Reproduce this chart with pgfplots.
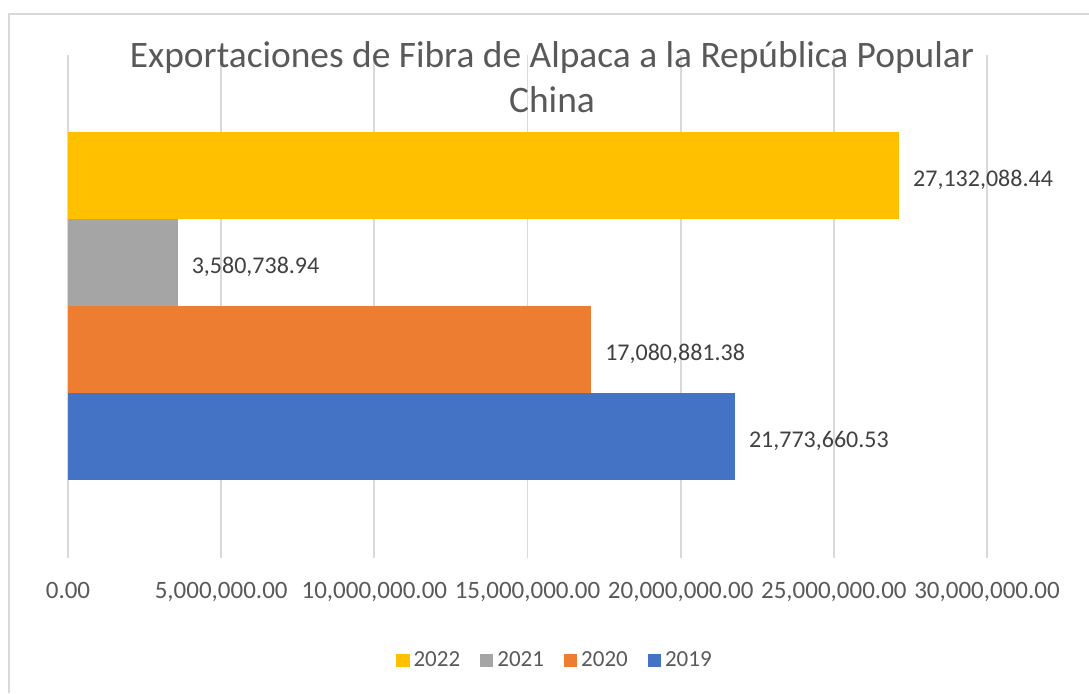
\documentclass[border=0pt]{standalone}
\usepackage{fontspec}
\setmainfont{Carlito}
\usepackage{pgfplots}
\usepackage{pgfplotstable}
\pgfplotsset{compat=1.18}

\definecolor{c2022}{HTML}{FFC000}
\definecolor{c2021}{HTML}{A5A5A5}
\definecolor{c2020}{HTML}{ED7D31}
\definecolor{c2019}{HTML}{4472C4}
\definecolor{gridc}{HTML}{D9D9D9}
\definecolor{txtc}{HTML}{595959}
\definecolor{lblc}{HTML}{404040}

\pgfplotstableread{
x y label
27132088.44 3 27,132,088.44
}\tabA
\pgfplotstableread{
x y label
3580738.94 2 3,580,738.94
}\tabB
\pgfplotstableread{
x y label
17080881.38 1 17,080,881.38
}\tabC
\pgfplotstableread{
x y label
21773660.53 0 21,773,660.53
}\tabD

\pgfplotsset{sq/.style={legend image code/.code={\fill[##1] (0pt,-3.3pt) rectangle (6.6pt,3.3pt);}}}

\begin{document}
\begin{tikzpicture}
\useasboundingbox (-34pt,-67.5pt) rectangle (510.5pt,279pt);
\begin{axis}[
    at={(0pt,0pt)}, anchor=south west,
    scale only axis,
    width=459.5pt, height=251.5pt,
    xbar, bar width=1, bar shift=0pt,
    xmin=0, xmax=30000000,
    ymin=-1.40, ymax=4.38,
    axis line style={draw=none},
    tick style={draw=none},
    ytick=\empty,
    scaled x ticks=false,
    xtick={0,5000000,10000000,15000000,20000000,25000000,30000000},
    xticklabels={{0.00},{5,000,000.00},{10,000,000.00},{15,000,000.00},{20,000,000.00},{25,000,000.00},{30,000,000.00}},
    xticklabel style={anchor=base, yshift=-20pt, font=\fontsize{12.5}{14}\selectfont, text=txtc},
    /pgf/number format/assume math mode=true,
    xmajorgrids,
    grid style={color=gridc, line width=0.9pt},
    point meta=explicit symbolic,
    nodes near coords,
    every node near coord/.append style={anchor=west, xshift=3.5pt, yshift=-2.2pt, font=\fontsize{12}{14}\selectfont, text=lblc},
    legend columns=4,
    legend style={at={(0.531,-0.203)}, anchor=center, draw=none, fill=none,
        font=\fontsize{11.5}{13}\selectfont, text=txtc,
        /tikz/every even column/.append style={column sep=8pt}},
]
\addplot[fill=c2022, draw=none, sq] table[x=x, y=y, meta=label] {\tabA};
\addlegendentry{2022}
\addplot[fill=c2021, draw=none, sq] table[x=x, y=y, meta=label] {\tabB};
\addlegendentry{2021}
\addplot[fill=c2020, draw=none, sq] table[x=x, y=y, meta=label] {\tabC};
\addlegendentry{2020}
\addplot[fill=c2019, draw=none, sq] table[x=x, y=y, meta=label] {\tabD};
\addlegendentry{2019}
\end{axis}
% title
\node[anchor=base, text=txtc, font=\fontsize{18.7}{22}\selectfont] at (242pt,245.5pt) {Exportaciones de Fibra de Alpaca a la República Popular};
\node[anchor=base, text=txtc, font=\fontsize{18.7}{22}\selectfont] at (242pt,223pt) {China};
% chart frame
\draw[gridc, line width=1pt] (-29.5pt,-67.5pt) -- (-29.5pt,272pt) -- (510.5pt,272pt);
\end{tikzpicture}
\end{document}
